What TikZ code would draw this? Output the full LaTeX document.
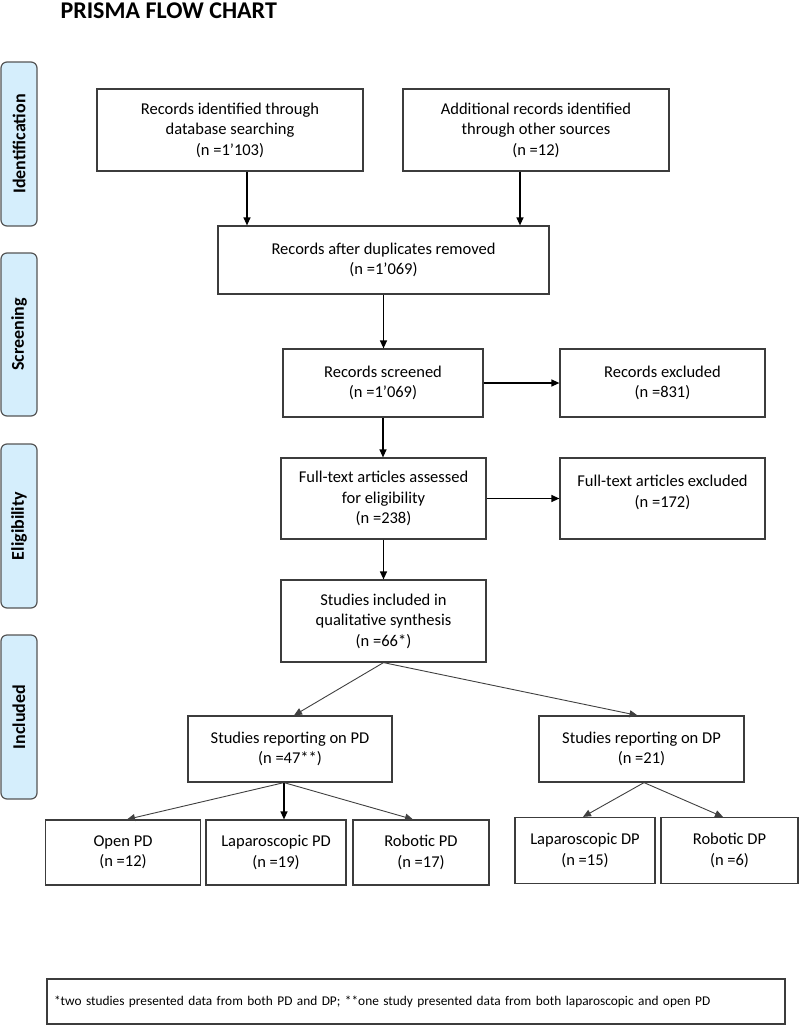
\documentclass[tikz,border=0pt]{standalone}
\usepackage{fontspec}
\setmainfont{Carlito}
\usetikzlibrary{arrows.meta,calc}
\definecolor{boxc}{HTML}{3C3C3C}
\definecolor{tabf}{HTML}{D5EEFC}
\definecolor{tabb}{HTML}{555555}
\definecolor{diagc}{HTML}{404040}
\newcommand{\bodyf}{\fontsize{16.5pt}{20.5pt}\selectfont}
\newcommand{\tabfont}{\fontsize{18pt}{21pt}\selectfont\bfseries}
\newcommand{\notef}{\fontsize{13.35pt}{16pt}\selectfont}
\begin{document}
\begin{tikzpicture}[x=1pt,y=-1pt,
  box/.style={draw=boxc, line width=1.2pt, fill=white, align=center, inner sep=0pt, font=\bodyf},
  tabbox/.style={draw=tabb, fill=tabf, rounded corners=6pt, line width=1.2pt, inner sep=0pt,
     minimum height=36pt, rotate=90, font=\tabfont},
  arr/.style={-{Triangle[length=8pt,width=7pt]}, line width=1.2pt, draw=black},
  darr/.style={-{Triangle[length=8pt,width=7pt]}, line width=0.9pt, draw=diagc}]
\useasboundingbox (0,0) rectangle (800,1026);

\node[anchor=base west, font=\fontsize{24pt}{28pt}\selectfont\bfseries] (title) at (57,18) {PRISMA FLOW CHART};

% phase tabs
\node[tabbox, minimum width=164pt] (tid) at (19,144) {Identification};
\node[tabbox, minimum width=163pt] (tsc) at (19,334.5) {Screening};
\node[tabbox, minimum width=164pt] (tel) at (19,526) {Eligibility};
\node[tabbox, minimum width=164pt] (tin) at (19,717) {Included};

% boxes
\node[box, minimum width=266pt, minimum height=82pt] (A) at (230,130)
  {Records identified through\\database searching\\(n =1’103)};
\node[box, minimum width=266pt, minimum height=82pt] (B) at (536,130)
  {Additional records identified\\through other sources\\(n =12)};
\node[box, minimum width=331pt, minimum height=68pt] (C) at (383.5,260)
  {Records after duplicates removed\\(n =1’069)};
\node[box, minimum width=200pt, minimum height=68pt] (D) at (383,383)
  {Records screened\\(n =1’069)};
\node[box, minimum width=205pt, minimum height=68pt] (RE) at (662.5,383)
  {Records excluded\\(n =831)};
\node[box, minimum width=205pt, minimum height=81pt] (E) at (383.5,498.5)
  {Full-text articles assessed\\for eligibility\\(n =238)};
\node[box, minimum width=205pt, minimum height=81pt] (FE) at (662.5,498.5)
  {Full-text articles excluded\\(n =172)\\[-6pt]\mbox{}};
\node[box, minimum width=205pt, minimum height=82pt] (F) at (383.5,621)
  {Studies included in\\qualitative synthesis\\(n =66*)};
\node[box, minimum width=204pt, minimum height=66pt] (G) at (290,749)
  {Studies reporting on PD\\(n =47**)};
\node[box, minimum width=205pt, minimum height=66pt] (H) at (641.5,749)
  {Studies reporting on DP\\(n =21)};
\node[box, minimum width=155pt, minimum height=65pt] (OP) at (123,852.5)
  {Open PD\\(n =12)};
\node[box, minimum width=140pt, minimum height=65pt] (LP) at (276,852.5)
  {Laparoscopic PD\\(n =19)};
\node[box, minimum width=136pt, minimum height=65pt] (RP) at (421,852.5)
  {Robotic PD\\(n =17)};
\node[box, minimum width=140pt, minimum height=66pt] (LD) at (585,850.5)
  {Laparoscopic DP\\(n =15)};
\node[box, minimum width=137pt, minimum height=66pt] (RD) at (729.5,850.5)
  {Robotic DP\\(n =6)};

\node[box, minimum width=738pt, minimum height=45pt, inner xsep=7pt, text width=724pt,
  align=left, font=\notef] (note) at (416,1001.5)
  {*two studies presented data from both PD and DP; **one study presented data from both laparoscopic and open PD};

% connectors
\draw[arr] ([xshift=17pt]A.south) -- ([xshift=17pt]A.south |- C.north);
\draw[arr] ([xshift=-16pt]B.south) -- ([xshift=-16pt]B.south |- C.north);
\draw[arr] (C.south) -- (C.south |- D.north);
\draw[arr] (D.east) -- (D.east -| RE.west);
\draw[arr] (D.south) -- (D.south |- E.north);
\draw[arr] (E.east) -- (E.east -| FE.west);
\draw[arr] (E.south) -- (E.south |- F.north);
\draw[darr] (F.south) -- ([xshift=4pt]G.north);
\draw[darr] (F.south) -- ([xshift=-4pt]H.north);
\coordinate (gs) at ([xshift=-6pt]G.south);
\coordinate (hs) at ([xshift=2.5pt]H.south);
\draw[darr] (gs) -- ([xshift=4pt]OP.north);
\draw[arr] (gs) -- (gs |- LP.north);
\draw[darr] (gs) -- ([xshift=-8pt]RP.north);
\draw[darr] (hs) -- ([xshift=-2pt]LD.north);
\draw[darr] (hs) -- ([xshift=-6.5pt]RD.north);
\end{tikzpicture}
\end{document}
